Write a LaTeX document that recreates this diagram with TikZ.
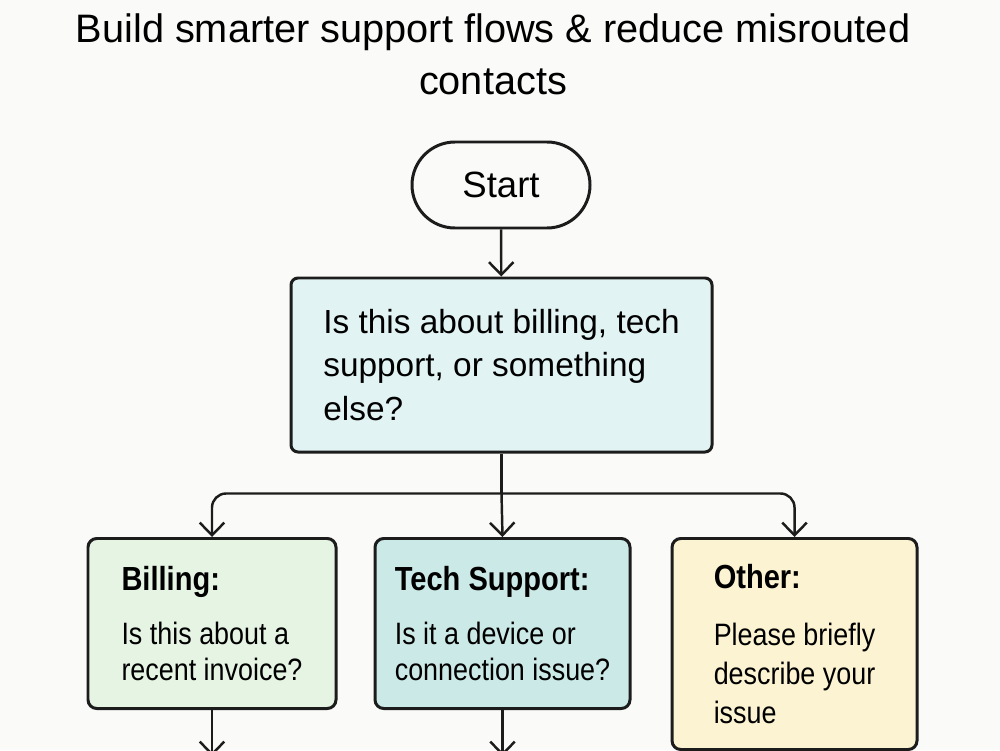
\documentclass[tikz,border=0pt]{standalone}
\usepackage{fontspec}
\setmainfont{Liberation Sans}
\newfontfamily\narrowsf[FakeStretch=0.87]{Liberation Sans}
\usetikzlibrary{arrows.meta, positioning, calc}

\definecolor{bgpage}{HTML}{FAFAF8}
\definecolor{qfill}{HTML}{E1F3F3}
\definecolor{billfill}{HTML}{E5F4E3}
\definecolor{techfill}{HTML}{CBE9E6}
\definecolor{othfill}{HTML}{FCF3D2}
\definecolor{edge}{HTML}{1C1C1C}

\begin{document}
\begin{tikzpicture}[
  term/.style={rectangle,draw=edge,line width=0.85pt,rounded corners=4.3mm, minimum width=1.78cm,minimum height=0.86cm,align=center,font=\fontsize{10.4}{12}\selectfont},
  ask/.style={rectangle,draw=edge,fill=qfill,line width=0.85pt,rounded corners=2pt, minimum width=4.21cm,minimum height=1.74cm,align=left,font=\fontsize{9.5}{12.5}\selectfont},
  branch/.style={rectangle,draw=edge,line width=0.85pt,rounded corners=2.5pt, anchor=north,minimum height=1.70cm,align=left,font=\narrowsf\fontsize{8.8}{10.2}\selectfont},
  flow/.style={-{Straight Barb[length=3.6pt,width=7pt]},line width=0.7pt,draw=edge}
]
  \fill[bgpage] (0,0) rectangle (10,7.5);
  \useasboundingbox (0,0) rectangle (10,7.5);

  \node[align=center,font=\fontsize{11.3}{14.8}\selectfont](title) at (4.93,6.96)
    {Build smarter support flows \& reduce misrouted\\contacts};

  \node[term](start) at (5.01,5.65) {Start};
  \node[ask](query)  at (5.015,3.85) {Is this about billing, tech\\support, or something\\else?};

  \node[branch,fill=billfill,minimum width=2.48cm](bill) at (2.12,2.13)
    {{\bfseries\fontsize{9.5}{11}\selectfont Billing:}\\[5pt]Is this about a\\recent invoice?};
  \node[branch,fill=techfill,minimum width=2.55cm](tech) at (5.025,2.13)
    {{\bfseries\fontsize{9.5}{11}\selectfont Tech Support:}\\[5pt]Is it a device or\\connection issue?};
  \node[branch,fill=othfill,minimum width=2.45cm,minimum height=2.11cm,
    font=\narrowsf\fontsize{8.8}{11.2}\selectfont](other) at (7.945,2.13)
    {{\bfseries\fontsize{9.5}{11}\selectfont Other:}\\[5pt]Please briefly\\describe your\\issue};

  \draw[flow](start)--(query);
  \draw[line width=0.7pt,draw=edge](query.south)--++(0,-0.4) coordinate(split);
  \draw[flow,rounded corners=4pt](split)-|(bill.north);
  \draw[flow](split)--(tech.north);
  \draw[flow,rounded corners=4pt](split)-|(other.north);

  \draw[flow](bill.south)--++(0,-0.46);
  \draw[flow](tech.south)--++(0,-0.46);
  \draw[flow](other.south)--++(0,-0.46);
\end{tikzpicture}
\end{document}
